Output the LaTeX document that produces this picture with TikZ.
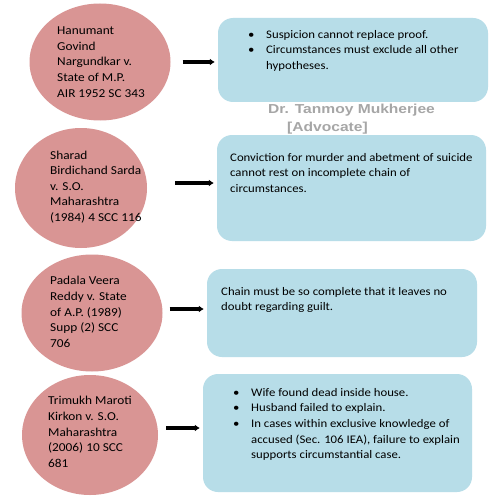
\documentclass[tikz,border=0pt]{standalone}
\usepackage{fontspec}
\setmainfont[FakeStretch=1.1]{Carlito}
\newfontfamily\markfont[FakeStretch=1.2]{Liberation Sans}
\usetikzlibrary{arrows.meta,positioning,shapes.geometric}
\definecolor{CaseFill}{HTML}{D99594}
\definecolor{NoteFill}{HTML}{B7DDE8}
\definecolor{MarkGrey}{HTML}{A6A6A6}
\newcommand{\bul}{\makebox[18pt][l]{\textbullet}}
\tikzset{>=Stealth,case/.style={ellipse,fill=CaseFill,inner sep=0pt},
 casetext/.style={anchor=west,align=left,inner sep=0pt,font=\fontsize{12.1}{15.6}\selectfont},
 note/.style={rounded corners=15pt,fill=NoteFill,inner sep=0pt},
 notetext/.style={anchor=north west,align=left,inner sep=0pt,font=\fontsize{11.6}{15.6}\selectfont},
 link/.style={line width=3.2pt,-{Latex[length=5pt,width=7pt]},shorten >=3pt}}
\begin{document}
\begin{tikzpicture}[x=1pt,y=-1pt]
\fill[white] (0,0) rectangle (500,500);
\useasboundingbox (0,0) rectangle (500,500);
% cases on the left
\node[case,minimum width=141pt,minimum height=117pt] (e1) at (100,62) {};
\node[case,minimum width=132pt,minimum height=120pt] (e2) at (81,188) {};
\node[case,minimum width=141pt,minimum height=117pt] (e3) at (92,313) {};
\node[case,minimum width=136pt,minimum height=120pt] (e4) at (90,435) {};
\node[casetext] (t1) at (57,62) {Hanumant\\Govind\\Nargundkar v.\\State of M.P.\\AIR 1952 SC 343};
\node[casetext] (t2) at (50,187) {Sharad\\Birdichand Sarda\\v. S.O.\\Maharashtra\\(1984) 4 SCC 116};
\node[casetext] (t3) at (50,312) {Padala Veera\\Reddy v. State\\of A.P. (1989)\\Supp (2) SCC\\706};
\node[casetext] (t4) at (48,432) {Trimukh Maroti\\Kirkon v. S.O.\\Maharashtra\\(2006) 10 SCC\\681};
% principles on the right
\node[note,minimum width=270pt,minimum height=84pt] (b1) at (353,60) {};
\node[note,minimum width=269pt,minimum height=106pt] (b2) at (351.5,188) {};
\node[note,minimum width=270pt,minimum height=88pt] (b3) at (342,313) {};
\node[note,minimum width=269pt,minimum height=118pt] (b4) at (337.5,433) {};
\node[notetext] (n1) at (248,30) {\bul Suspicion cannot replace proof.\\\bul Circumstances must exclude all other\\\hspace*{18pt}hypotheses.};
\node[notetext] (n2) at (230,153) {Conviction for murder and abetment of suicide\\cannot rest on incomplete chain of\\circumstances.};
\node[notetext] (n3) at (221,287) {Chain must be so complete that it leaves no\\doubt regarding guilt.};
\node[notetext] (n4) at (233,388) {\bul Wife found dead inside house.\\\bul Husband failed to explain.\\\bul In cases within exclusive knowledge of\\\hspace*{18pt}accused (Sec. 106 IEA), failure to explain\\\hspace*{18pt}supports circumstantial case.};
\node[anchor=west,align=left,inner sep=0pt,text=MarkGrey,font=\markfont\bfseries\fontsize{13}{18}\selectfont] (mark) at (268,119) {Dr. Tanmoy Mukherjee\\\hspace*{19pt}[Advocate]};
\foreach \i/\gap/\dy in {1/12/0,2/28/-5,3/7/-4,4/8/-7}
 \draw[link] ([shift={(\gap,\dy)}]e\i.east) coordinate (s\i) -- (s\i -| b\i.west);
\end{tikzpicture}
\end{document}
